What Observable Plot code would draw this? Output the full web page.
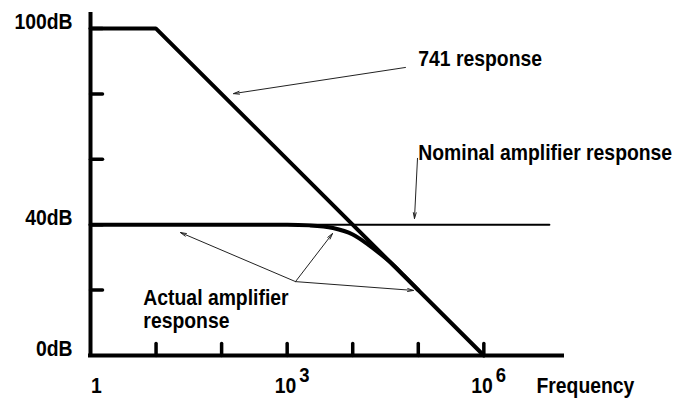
<!DOCTYPE html>
<html><head><meta charset="utf-8">
<script src="https://cdn.jsdelivr.net/npm/d3@7"></script>
<script src="https://cdn.jsdelivr.net/npm/@observablehq/plot@0.6"></script>
<style>
body{margin:0;background:#fff;}
#chart svg{display:block;}
</style></head><body><div id="chart"></div>
<script>
// ---- data (frequency in Hz, gain in dB) ----
const freq741 = [1, 10, 1e6];
const db741 = [100, 100, 0];
const freqNominal = [1, 1e7];
const dbNominal = [40, 40];
const freqActual = [1, 100, 1000, 2200, 5000, 10000, 17000, 27000, 40000, 60000, 100000];
const dbActual = [40, 40, 40, 39.8, 39.0, 37.0, 34.0, 30.9, 28.0, 24.5, 20];

const xTicks = [10, 100, 1e3, 1e4, 1e5, 1e6];
const yTicks = [20, 40, 60, 80, 100];
const yLabelValues = [100, 40, 0];
const yLabels = ["100dB", "40dB", "0dB"];
const xLabelValues = [1e3, 1e6];
const xLabelBase = ["10", "10"];
const xLabelExp = ["3", "6"];
const xAxisMax = 15848932;
const yAxisMax = 104.3;

// annotations
const noteText = ["741 response", "Nominal amplifier response", "Actual amplifier\nresponse", "Frequency"];
const noteF = [1e5, 1e5, 6.4, 6.35e6];
const noteDb = [88.7, 59.65, 8.26, -11.6];
const arrowTailF = [63800, 97300, 1340, 1340, 1340];
const arrowTailDb = [88.1, 60.3, 22.6, 22.6, 22.6];
const arrowHeadF = [152, 87500, 23.6, 4910, 84500];
const arrowHeadDb = [80.1, 41.9, 37.6, 37.3, 19.9];

const idx = a => d3.range(a.length);
const tickShape = {draw(context, l) { context.moveTo(0, 0); context.lineTo(0, -l); }};
const font = "'Liberation Sans', Arial, Helvetica, sans-serif";

const chart = Plot.plot({
  width: 673, height: 402,
  marginLeft: 90, marginRight: 111, marginTop: 14, marginBottom: 47,
  style: {fontFamily: font, fontWeight: "bold", background: "#fff", color: "#000"},
  x: {type: "log", domain: [1, xAxisMax], axis: null},
  y: {domain: [0, yAxisMax], axis: null},
  marks: [
    // axes
    Plot.ruleY([0], {x1: 1, x2: xAxisMax, strokeWidth: 4, stroke: "#000", strokeLinecap: "square"}),
    Plot.ruleX([1], {y1: 0, y2: yAxisMax, strokeWidth: 4, stroke: "#000", strokeLinecap: "square"}),
    Plot.vector(xTicks, {x: d => d, y: 0, length: 12, rotate: 0, anchor: "start", shape: tickShape, strokeWidth: 3.5, stroke: "#000"}),
    Plot.vector(yTicks, {x: 1, y: d => d, length: 12, rotate: 90, anchor: "start", shape: tickShape, strokeWidth: 3.5, stroke: "#000"}),
    // curves
    Plot.line(idx(freqNominal), {x: i => freqNominal[i], y: i => dbNominal[i], stroke: "#000", strokeWidth: 2}),
    Plot.line(idx(freqActual), {x: i => freqActual[i], y: i => dbActual[i], stroke: "#000", strokeWidth: 4, curve: "monotone-x"}),
    Plot.line(idx(freq741), {x: i => freq741[i], y: i => db741[i], stroke: "#000", strokeWidth: 4, strokeLinejoin: "miter"}),
    // arrows
    Plot.arrow(idx(arrowTailF), {x1: i => arrowTailF[i], y1: i => arrowTailDb[i], x2: i => arrowHeadF[i], y2: i => arrowHeadDb[i],
      stroke: "#222", strokeWidth: 1, headLength: 9, headAngle: 28}),
    // axis labels
    Plot.text(yLabelValues, {x: 1, y: d => d, text: (d, i) => yLabels[i], textAnchor: "end", lineAnchor: "bottom", dx: -18, fontSize: 22, fill: "#000"}),
    Plot.text([1], {x: d => d, y: -11.6, text: () => "1", textAnchor: "middle", lineAnchor: "bottom", dx: 6, fontSize: 22, fill: "#000"}),
    Plot.text(xLabelValues, {x: d => d, y: -11.6, text: (d, i) => xLabelBase[i], textAnchor: "end", lineAnchor: "bottom", dx: 9, fontSize: 22, fill: "#000"}),
    Plot.text(xLabelValues, {x: d => d, y: -11.6, text: (d, i) => xLabelExp[i], textAnchor: "start", lineAnchor: "bottom", dx: 12, dy: -11, fontSize: 21, fill: "#000"}),
    // annotations
    Plot.text(idx(noteText), {x: i => noteF[i], y: i => noteDb[i], text: i => noteText[i], textAnchor: "start", lineAnchor: "bottom", lineHeight: 1.05, fontSize: 22, fill: "#000"})
  ]
});
// condensed lettering like the reference (narrow bold sans)
d3.select(chart).selectAll("text").each(function() {
  const t = this.getAttribute("transform");
  if (t) this.setAttribute("transform", t + " scale(0.88,1)");
  else {
    const x = +this.getAttribute("x") || 0;
    this.setAttribute("transform", `translate(${x},0) scale(0.88,1) translate(${-x},0)`);
  }
});
document.getElementById("chart").appendChild(chart);
</script></body></html>
